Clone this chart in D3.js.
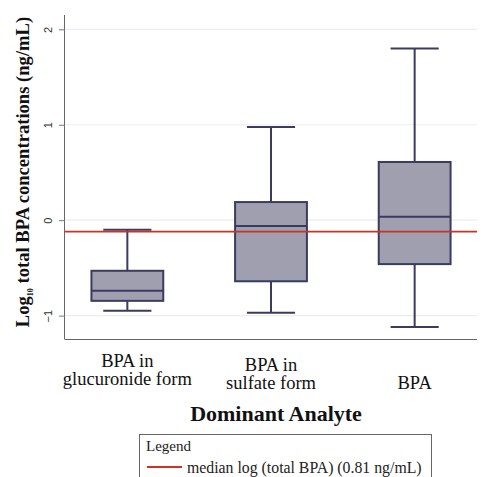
<!DOCTYPE html>
<html>
<head>
<meta charset="utf-8">
<script src="https://cdn.jsdelivr.net/npm/d3@7"></script>
<style>
  body { margin: 0; background: #fff; }
  svg { display: block; }
  .serif { font-family: "Liberation Serif", "Times New Roman", serif; }
</style>
</head>
<body>
<svg id="chart" width="484" height="477"></svg>
<script>
// categories + box stats (log10 ng/mL)
const categories = ["glucuronide", "sulfate", "free"]
const catLabels = [["BPA in", "glucuronide form"], ["BPA in", "sulfate form"], ["BPA"]]
const whiskerLow = [-0.95, -0.97, -1.12]
const q1 = [-0.845, -0.64, -0.46]
const medians = [-0.74, -0.06, 0.035]
const q3 = [-0.53, 0.19, 0.61]
const whiskerHigh = [-0.10, 0.977, 1.80]
const yTicks = [-1, 0, 1, 2]
const overallMedian = -0.12
const legendText = "median log (total BPA) (0.81 ng/mL)"

const svg = d3.select('#chart')
const plotL = 65, plotR = 477, plotT = 15, plotB = 339.5

const y = d3.scaleLinear().domain([-1.25, 2.15]).range([plotB, plotT])
const x = d3.scalePoint().domain(categories).range([plotL, plotR]).padding(0.434)
const step = x.step()
const boxW = step * 0.5, capW = step * 0.335

const boxes = categories.map((c, i) => ({
  c: c, lo: whiskerLow[i], q1: q1[i], med: medians[i], q3: q3[i], hi: whiskerHigh[i]
}))

// grid
svg.append('g').selectAll('line').data(yTicks).join('line')
  .attr('x1', plotL).attr('x2', plotR)
  .attr('y1', d => y(d)).attr('y2', d => y(d))
  .attr('stroke', '#ececf3').attr('stroke-width', 1.2)

// y axis
const yAxis = svg.append('g').attr('transform', `translate(${plotL},0)`)
  .call(d3.axisLeft(y).tickValues(yTicks).tickSize(6).tickFormat(d3.format('d')))
yAxis.select('.domain').attr('stroke', '#666').attr('d', `M-0.5,${plotT}V${plotB}`)
yAxis.selectAll('.tick line').attr('stroke', '#777')
yAxis.selectAll('.tick text')
  .attr('transform', 'rotate(-90)')
  .attr('x', 0).attr('y', -13)
  .attr('dy', 0)
  .attr('text-anchor', 'middle')
  .style('font-family', 'Liberation Sans, Arial, sans-serif')
  .style('font-size', '11px')
  .attr('fill', '#333')

// x axis line
svg.append('line')
  .attr('x1', plotL).attr('x2', plotR)
  .attr('y1', plotB).attr('y2', plotB)
  .attr('stroke', '#666').attr('stroke-width', 1.2)

// boxes
const g = svg.append('g')
const boxColor = '#a09fb0', lineColor = '#3b3b60'
const bx = g.selectAll('g.box').data(boxes).join('g').attr('class', 'box')
bx.append('line')
  .attr('x1', d => x(d.c)).attr('x2', d => x(d.c))
  .attr('y1', d => y(d.hi)).attr('y2', d => y(d.lo))
  .attr('stroke', lineColor).attr('stroke-width', 2)
bx.selectAll('line.cap').data(d => [d.hi, d.lo].map(v => ({ c: d.c, v: v }))).join('line')
  .attr('class', 'cap')
  .attr('x1', d => x(d.c) - capW / 2).attr('x2', d => x(d.c) + capW / 2)
  .attr('y1', d => y(d.v)).attr('y2', d => y(d.v))
  .attr('stroke', lineColor).attr('stroke-width', 2)
bx.append('rect')
  .attr('x', d => x(d.c) - boxW / 2).attr('width', boxW)
  .attr('y', d => y(d.q3)).attr('height', d => y(d.q1) - y(d.q3))
  .attr('fill', boxColor).attr('stroke', lineColor).attr('stroke-width', 2)
bx.append('line')
  .attr('x1', d => x(d.c) - boxW / 2).attr('x2', d => x(d.c) + boxW / 2)
  .attr('y1', d => y(d.med)).attr('y2', d => y(d.med))
  .attr('stroke', lineColor).attr('stroke-width', 2)

// overall median line
svg.append('line')
  .attr('x1', plotL).attr('x2', plotR)
  .attr('y1', y(overallMedian)).attr('y2', y(overallMedian))
  .attr('stroke', '#cc3322').attr('stroke-width', 1.8)

// category labels, bottom aligned (descenders sit a bit higher)
categories.forEach((c, i) => {
  const lines = catLabels[i]
  const last = lines[lines.length - 1]
  const base = /[gjpqy]/.test(last) ? 385 : 389
  const t = svg.append('text').attr('class', 'serif')
    .attr('x', x(c)).attr('text-anchor', 'middle')
    .style('font-size', '18.5px').attr('fill', '#111')
  lines.forEach((ln, k) => {
    t.append('tspan').attr('x', x(c))
      .attr('y', base - (lines.length - 1 - k) * 18)
      .text(ln)
  })
})

// x title
svg.append('text').attr('class', 'serif')
  .attr('x', 276).attr('y', 421).attr('text-anchor', 'middle')
  .style('font-size', '22px').style('font-weight', 'bold')
  .attr('fill', '#111')
  .text('Dominant Analyte')

// y title
const yt = svg.append('text').attr('class', 'serif')
  .attr('transform', 'translate(29,172) rotate(-90)')
  .attr('text-anchor', 'middle')
  .style('font-size', '18.6px').style('font-weight', 'bold')
  .attr('fill', '#111')
yt.append('tspan').text('Log')
yt.append('tspan').attr('font-size', '8px').attr('dy', 4).text('10')
yt.append('tspan').attr('dy', -4).text(' total BPA concentrations (ng/mL)')

// legend
const lg = svg.append('g')
lg.append('rect')
  .attr('x', 139.5).attr('y', 434.5).attr('width', 292).attr('height', 60)
  .attr('fill', 'none').attr('stroke', '#666').attr('stroke-width', 1)
lg.append('text').attr('class', 'serif')
  .attr('x', 146).attr('y', 451)
  .style('font-size', '15px').attr('fill', '#222')
  .text('Legend')
lg.append('line')
  .attr('x1', 147).attr('x2', 182).attr('y1', 467).attr('y2', 467)
  .attr('stroke', '#cc3322').attr('stroke-width', 1.8)
lg.append('text').attr('class', 'serif')
  .attr('x', 187).attr('y', 472.5)
  .style('font-size', '15.8px').attr('fill', '#222')
  .text(legendText)
</script>
</body>
</html>
